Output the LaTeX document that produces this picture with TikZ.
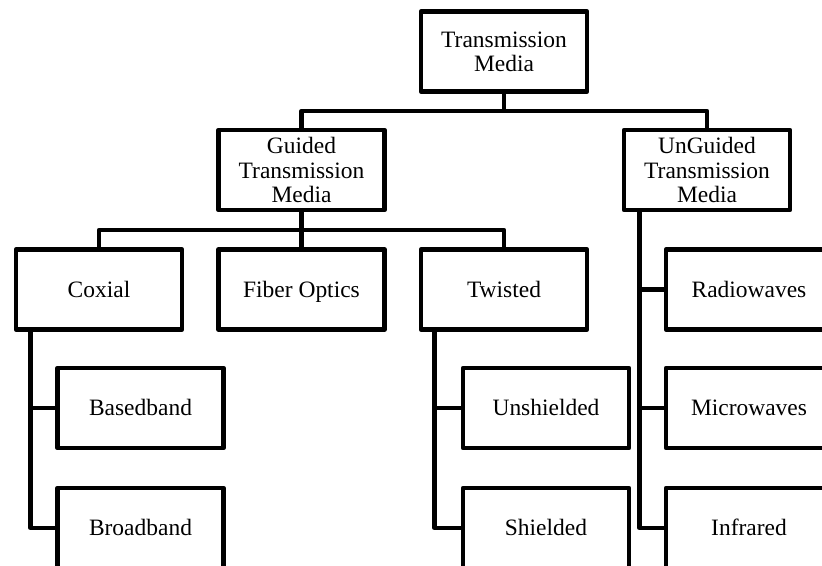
\documentclass[tikz,border=0pt]{standalone}
\usepackage{fontspec}
\setmainfont{Liberation Serif}

\begin{document}
\begin{tikzpicture}[x=0.75pt,y=-0.75pt,
	box/.style={draw,line width=3.4pt,line join=round,fill=white,minimum width=124.5pt,minimum height=60pt,inner sep=2pt,align=center,font=\fontsize{17.6}{18.2}\selectfont},
	leaf/.style={box,text height=11.8pt,text depth=0pt},
	link/.style={line width=3.4pt,line join=round}]
		\useasboundingbox (0,0) rectangle (822,566);
		\clip (0,0) rectangle (822,566);

		% boxes
		\node[box] (media) at (504,51.5) {Transmission\\Media};
		\node[box] (guided) at (301.5,170) {Guided\\Transmission\\Media};
		\node[box] (unguided) at (707,170) {UnGuided\\Transmission\\Media};

		\node[leaf] (coxial) at (99,289.5) {Coxial};
		\node[leaf] (fiber) at (301.5,289.5) {Fiber Optics};
		\node[leaf] (twisted) at (504,289.5) {Twisted};
		\node[leaf] (radio) at (749,289.5) {Radiowaves};

		\node[leaf] (basedband) at (140.5,408) {Basedband};
		\node[leaf] (unshielded) at (546,408) {Unshielded};
		\node[leaf] (micro) at (749,408) {Microwaves};

		\node[leaf] (broadband) at (140.5,528) {Broadband};
		\node[leaf] (shielded) at (546,528) {Shielded};
		\node[leaf] (infrared) at (749,528) {Infrared};

		% connectors
		\coordinate (bus1) at (504,111);
		\coordinate (bus2) at (301.5,230);
		\draw[link] (media.south) -- (bus1);
		\draw[link] (guided.north) |- (bus1) -| (unguided.north);
		\draw[link] (guided.south) -- (bus2);
		\draw[link] (coxial.north) |- (bus2) -| (twisted.north);
		\draw[link] (fiber.north) -- (bus2);

		\draw[link] ([xshift=12.75pt]coxial.south west) |- (basedband.west);
		\draw[link] ([xshift=12.75pt]coxial.south west) |- (broadband.west);
		\draw[link] ([xshift=12pt]twisted.south west) |- (unshielded.west);
		\draw[link] ([xshift=12pt]twisted.south west) |- (shielded.west);
		\draw[link] ([xshift=13.5pt]unguided.south west) |- (radio.west);
		\draw[link] ([xshift=13.5pt]unguided.south west) |- (micro.west);
		\draw[link] ([xshift=13.5pt]unguided.south west) |- (infrared.west);
\end{tikzpicture}
\end{document}
